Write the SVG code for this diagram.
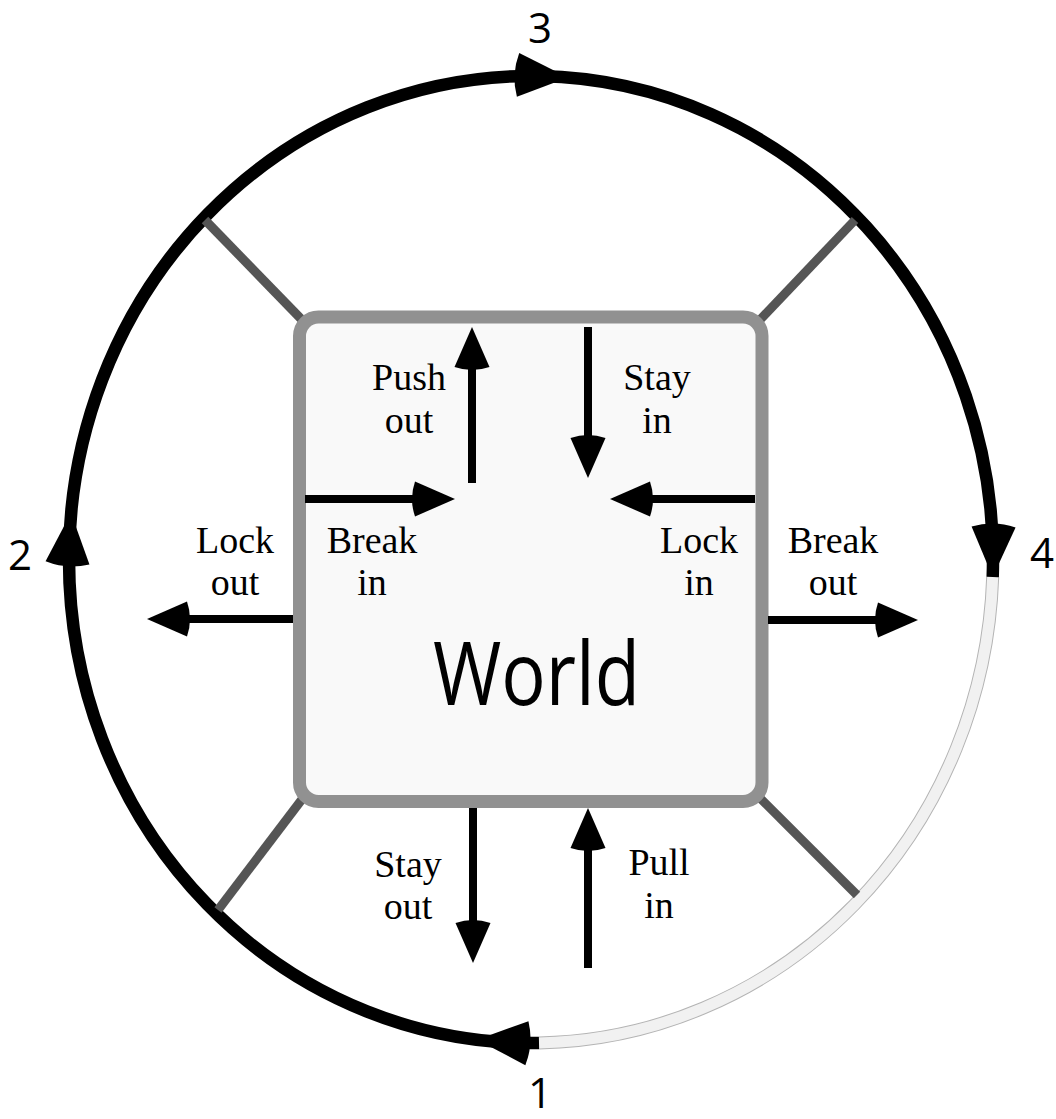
<svg xmlns="http://www.w3.org/2000/svg" xmlns:xlink="http://www.w3.org/1999/xlink" width="1056" height="1119" viewBox="0 0 1056 1119">
<defs>
<style>
.lbl{font-family:"Liberation Serif","Times New Roman",serif;font-size:38px;fill:#000;text-anchor:middle}
.num{font-family:"Open Sans","Noto Sans",sans-serif;font-size:42px;fill:#000;text-anchor:middle}
.spoke{stroke:#555;stroke-width:9;fill:none}
.arr{stroke:#000;stroke-width:8;fill:none}
.cyc{stroke:#000;stroke-width:12.5;fill:none}
</style>
<path id="ah" d="M0,0 L-40,-17.5 Q-46,0 -40,17.5 Z" fill="#000"/>
<path id="bh" d="M0,0 L-50,-22 Q-57,0 -50,22 Z" fill="#000"/>
</defs>
<rect width="1056" height="1119" fill="#fff"/>

<g id="cycle">
<path d="M992.7,577 A462,483.5 0 0 1 539,1042.9" stroke="#b4b4b4" stroke-width="13" fill="none"/>
<path d="M992.7,577 A462,483.5 0 0 1 539,1042.9" stroke="#f1f1f1" stroke-width="11" fill="none"/>
<path class="cyc" d="M539,1042.9 A462,483.5 0 1 1 992.7,577"/>
<use xlink:href="#bh" transform="translate(477,1039.7) rotate(184)"/>
<use xlink:href="#bh" transform="translate(71,513) rotate(-86)"/>
<use xlink:href="#bh" transform="translate(568,77.5) rotate(3)"/>
<use xlink:href="#bh" transform="translate(992.7,577) rotate(91)"/>
</g>

<g id="spokes">
<line class="spoke" x1="205" y1="220" x2="306" y2="324"/>
<line class="spoke" x1="855" y1="220" x2="756" y2="324"/>
<line class="spoke" x1="218" y1="910" x2="306" y2="794"/>
<line class="spoke" x1="857" y1="895" x2="756" y2="794"/>
</g>

<g id="world">
<rect x="299.5" y="317" width="462.5" height="484.5" rx="19" ry="19" fill="#f9f9f9" stroke="#919191" stroke-width="13"/>
<text x="536.5" y="705" font-family="Open Sans, Noto Sans, sans-serif" font-size="87" text-anchor="middle" textLength="207" lengthAdjust="spacingAndGlyphs">World</text>
</g>

<g id="connectors">
<g id="push-out"><line class="arr" x1="472" y1="483" x2="472" y2="364"/><use xlink:href="#ah" transform="translate(472,327) rotate(-90)"/></g>
<g id="stay-in"><line class="arr" x1="588" y1="327" x2="588" y2="441"/><use xlink:href="#ah" transform="translate(588,478) rotate(90)"/></g>
<g id="break-in"><line class="arr" x1="305" y1="499" x2="418" y2="499"/><use xlink:href="#ah" transform="translate(455,499)"/></g>
<g id="lock-in"><line class="arr" x1="755" y1="499" x2="647" y2="499"/><use xlink:href="#ah" transform="translate(610,499) rotate(180)"/></g>
<g id="lock-out"><line class="arr" x1="293" y1="619" x2="184" y2="619"/><use xlink:href="#ah" transform="translate(147,619) rotate(180)"/></g>
<g id="break-out"><line class="arr" x1="768" y1="620" x2="881" y2="620"/><use xlink:href="#ah" transform="translate(918,620)"/></g>
<g id="stay-out"><line class="arr" x1="473" y1="808" x2="473" y2="926"/><use xlink:href="#ah" transform="translate(473,963) rotate(90)"/></g>
<g id="pull-in"><line class="arr" x1="588" y1="968" x2="588" y2="845"/><use xlink:href="#ah" transform="translate(588,808) rotate(-90)"/></g>
</g>

<g id="labels">
<text class="lbl" x="409" y="390">Push</text><text class="lbl" x="409" y="433">out</text>
<text class="lbl" x="657" y="390">Stay</text><text class="lbl" x="657" y="433">in</text>
<text class="lbl" x="372" y="553">Break</text><text class="lbl" x="372" y="595">in</text>
<text class="lbl" x="699" y="553">Lock</text><text class="lbl" x="699" y="595">in</text>
<text class="lbl" x="235" y="553">Lock</text><text class="lbl" x="235" y="595">out</text>
<text class="lbl" x="833" y="553">Break</text><text class="lbl" x="833" y="595">out</text>
<text class="lbl" x="408" y="877">Stay</text><text class="lbl" x="408" y="919">out</text>
<text class="lbl" x="659" y="875">Pull</text><text class="lbl" x="659" y="918">in</text>
</g>

<g id="steps">
<text class="num" x="540" y="1108">1</text>
<text class="num" x="20" y="570">2</text>
<text class="num" x="540" y="43">3</text>
<text class="num" x="1042" y="568">4</text>
</g>
</svg>
